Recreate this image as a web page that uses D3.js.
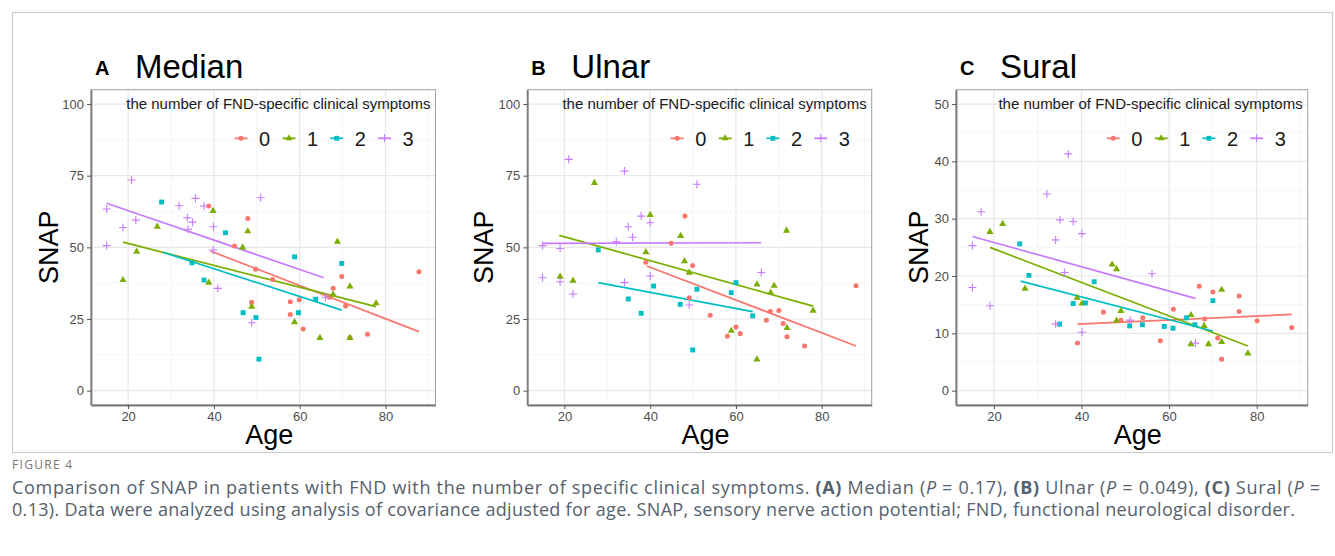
<!DOCTYPE html>
<html>
<head>
<meta charset="utf-8">
<script src="https://cdn.jsdelivr.net/npm/d3@7"></script>
<style>
  body { margin: 0; background: #fff; }
  svg { display: block; font-family: "Liberation Sans", Arial, sans-serif; }
</style>
</head>
<body>
<div id="chart"></div>
<script>
// groups = number of FND-specific clinical symptoms
var groups = ["0", "1", "2", "3"];
var groupColors = ["#F8766D", "#7CAE00", "#00BFC4", "#C77CFF"];

// [age, SNAP]
var median0 = [[38.8,64.4],[44.8,50.5],[47.9,60.1],[48.8,30.8],[49.7,42.4],[53.7,38.8],[57.8,31],[59.9,31.7],[57.8,26.6],[60.8,21.5],[66.9,32.6],[67.8,35.7],[69.8,39.8],[70.7,29.5],[71.7,18.5],[75.8,19.7],[87.8,41.5]];
var median1 = [[18.8,38.6],[22,48.5],[26.8,57.2],[38.8,37.7],[39.8,62.7],[46.7,50],[47.9,55.6],[48.8,29.3],[58.8,23.9],[64.7,18.4],[67.8,33.5],[68.8,52],[71.7,36.4],[71.7,18.4],[77.8,30.5]];
var median2 = [[27.8,65.8],[34.9,44.6],[37.7,38.6],[42.7,55.1],[46.8,27.2],[49.8,25.5],[50.5,11],[58.8,46.7],[59.7,27.2],[63.7,31.9],[69.8,44.4]];
var median3 = [[15,63.4],[15,50.6],[18.8,56.9],[20.8,73.5],[21.8,59.5],[31.9,64.5],[33.8,60.3],[34,56.3],[35,58.8],[35.7,67.1],[37.7,64.4],[39.8,49.1],[39.9,57.2],[40.9,35.7],[48.8,23.7],[50.9,67.3],[66,32.6]];

var ulnar0 = [[39,44.8],[44.9,51.4],[48.1,60.9],[49.1,32.4],[49.9,43.7],[54,26.3],[58,19],[60,22.2],[61,19.9],[67.1,24.6],[68,27.6],[70,28],[71,23.4],[71.9,18.8],[76,15.6],[88,36.6]];
var ulnar1 = [[19,39.8],[22,38.4],[27,72.5],[39,48.3],[40,61.3],[47.1,54],[48,45.2],[49.1,41.2],[58.9,20.9],[64.9,37.1],[64.9,10.9],[68.1,34.2],[68.9,36.6],[71.8,55.8],[71.9,21.9],[78,27.9]];
var ulnar2 = [[27.9,49.1],[34.9,32],[37.9,27],[40.8,36.5],[47,30.1],[49.9,14.2],[50.9,35.4],[58.9,34.2],[60,37.7],[63.9,26.1]];
var ulnar3 = [[14.9,50.6],[14.9,39.4],[19,49.6],[19,38],[21,80.7],[22,33.7],[32.1,52],[34,76.6],[34,37.7],[34.9,57.2],[35.9,53.5],[37.9,60.9],[40,58.6],[40,40],[49.1,29.9],[50.9,72],[65.9,41.2]];

var sural0 = [[39.1,8.3],[45,13.7],[49,12.3],[54,12.7],[58,8.7],[61,14.2],[66.9,18.2],[68.1,12.5],[70,17.2],[71.1,9.2],[72,5.5],[76,16.5],[76,13.8],[80.1,12.2],[88,11]];
var sural1 = [[19.1,27.7],[22,29.1],[27.1,17.8],[39,16.2],[40.1,15.2],[47,22],[48,21.2],[48,12.2],[49,13.9],[65,13.2],[65,8.1],[68,11.3],[69,8.1],[72,17.6],[72,8.5],[78,6.5]];
var sural2 = [[25.9,25.6],[28,20.1],[35,11.6],[38.1,15.2],[40.9,15.3],[42.9,19],[51,11.3],[53.9,11.5],[58.9,11.2],[60.9,10.9],[64,12.7],[65.9,11.5],[70,15.7]];
var sural3 = [[15.1,25.3],[15.1,18],[17.1,31.2],[19.1,14.8],[32.1,34.3],[34.1,26.3],[34.1,11.6],[35.1,29.8],[36.1,20.6],[37,41.3],[38.1,29.5],[40.1,27.4],[40.1,10.2],[51.1,12.3],[56.1,20.4],[66,8.3]];

// fitted lines per group: [age start, SNAP start, age end, SNAP end]
var medianFits = [[39.2,48.7,87.8,20.6],[18.8,51.8,77.8,29.3],[28.1,48.3,69.8,28.1],[15,65.4,65.6,39.4]];
var ulnarFits  = [[39.2,43.5,88,15.6],[18.8,54.2,78,29.5],[27.9,37.7,63.9,27.6],[14.9,51.4,65.9,51.6]];
var suralFits  = [[39.1,11.6,88,13.3],[19.1,25,78,7.8],[26.1,19.1,70,10.4],[15.1,26.9,66,16.1]];

var ageTicks = [20, 40, 60, 80];
var ageMinor = [30, 50, 70, 90];
var snapTicks100 = [0, 25, 50, 75, 100];
var snapTicks50 = [0, 10, 20, 30, 40, 50];

var panels = [
    { tag: "A", title: "Median", pts: [median0, median1, median2, median3], fits: medianFits,
      yMax: 100, yTicks: snapTicks100, left: 91, right: 435.5, ylabX: 48 },
    { tag: "B", title: "Ulnar", pts: [ulnar0, ulnar1, ulnar2, ulnar3], fits: ulnarFits,
      yMax: 100, yTicks: snapTicks100, left: 527.3, right: 871.7, ylabX: 483 },
    { tag: "C", title: "Sural", pts: [sural0, sural1, sural2, sural3], fits: suralFits,
      yMax: 50, yTicks: snapTicks50, left: 956, right: 1307.7, ylabX: 918 }
];

var W = 1335, H = 556;
var plotTop = 89.7, plotBottom = 405;

var svg = d3.select("#chart").append("svg")
    .attr("width", W).attr("height", H);

// figure frame
svg.append("rect")
    .attr("x", 12.5).attr("y", 12.5)
    .attr("width", 1320).attr("height", 440)
    .attr("fill", "none").attr("stroke", "#c8c8c8");

function shapeFor(i) {
    if (i === 0) return d3.symbol().type(d3.symbolCircle).size(20)();
    if (i === 1) return d3.symbol().type(d3.symbolTriangle).size(22)();
    if (i === 2) return d3.symbol().type(d3.symbolSquare).size(24)();
    return "M-4,0H4M0,-4V4";
}

panels.forEach(function (p) {
    var x = d3.scaleLinear().domain([11.35, 91.65]).range([p.left, p.right]);
    var y = d3.scaleLinear().domain([-0.05 * p.yMax, 1.05 * p.yMax]).range([plotBottom, plotTop]);
    var g = svg.append("g");

    // minor grid
    var yMinor = p.yTicks.slice(0, -1).map(function (t, i) { return (t + p.yTicks[i + 1]) / 2; });
    g.selectAll(".gmx").data(ageMinor).join("line")
        .attr("x1", d => x(d)).attr("x2", d => x(d))
        .attr("y1", plotTop).attr("y2", plotBottom)
        .attr("stroke", "#f2f2f2").attr("stroke-width", 0.7);
    g.selectAll(".gmy").data(yMinor).join("line")
        .attr("x1", p.left).attr("x2", p.right)
        .attr("y1", d => y(d)).attr("y2", d => y(d))
        .attr("stroke", "#f2f2f2").attr("stroke-width", 0.7);
    // major grid
    g.selectAll(".gx").data(ageTicks).join("line")
        .attr("x1", d => x(d)).attr("x2", d => x(d))
        .attr("y1", plotTop).attr("y2", plotBottom)
        .attr("stroke", "#e8e8e8").attr("stroke-width", 1.2);
    g.selectAll(".gy").data(p.yTicks).join("line")
        .attr("x1", p.left).attr("x2", p.right)
        .attr("y1", d => y(d)).attr("y2", d => y(d))
        .attr("stroke", "#e8e8e8").attr("stroke-width", 1.2);

    // panel border
    g.append("rect")
        .attr("x", p.left).attr("y", plotTop)
        .attr("width", p.right - p.left).attr("height", plotBottom - plotTop)
        .attr("fill", "none").attr("stroke", "#a0a0a0").attr("stroke-width", 1);

    // fitted lines
    var line = d3.line().x(d => x(d[0])).y(d => y(d[1]));
    p.fits.forEach(function (f, i) {
        g.append("path")
            .attr("d", line([[f[0], f[1]], [f[2], f[3]]]))
            .attr("fill", "none")
            .attr("stroke", groupColors[i])
            .attr("stroke-width", 1.7);
    });

    // points
    p.pts.forEach(function (arr, i) {
        g.selectAll(".pt" + i).data(arr).join("path")
            .attr("transform", d => "translate(" + x(d[0]) + "," + y(d[1]) + ")")
            .attr("d", shapeFor(i))
            .attr("fill", i === 3 ? "none" : groupColors[i])
            .attr("stroke", i === 3 ? groupColors[i] : "none")
            .attr("stroke-width", 1.1);
    });

    // axes
    var ax = g.append("g")
        .attr("transform", "translate(0," + plotBottom + ")")
        .call(d3.axisBottom(x).tickValues(ageTicks).tickSize(4).tickSizeOuter(0).tickPadding(3));
    var ay = g.append("g")
        .attr("transform", "translate(" + p.left + ",0)")
        .call(d3.axisLeft(y).tickValues(p.yTicks).tickSize(4).tickSizeOuter(0).tickPadding(3));
    [ax, ay].forEach(function (a) {
        a.select(".domain").attr("stroke", "#7a7a7a").attr("stroke-width", 1.8);
        a.selectAll(".tick line").attr("stroke", "#555");
        a.selectAll(".tick text")
            .attr("fill", "#4d4d4d")
            .style("font-size", "13px")
            .style("font-family", "'Liberation Sans', Arial, sans-serif");
    });

    // axis titles
    svg.append("text")
        .attr("x", (p.left + p.right) / 2 + 6).attr("y", 444)
        .attr("text-anchor", "middle")
        .style("font-size", "27px")
        .text("Age");
    svg.append("text")
        .attr("transform", "translate(" + (p.ylabX + 10) + "," + ((plotTop + plotBottom) / 2) + ") rotate(-90)")
        .attr("text-anchor", "middle")
        .style("font-size", "27px")
        .text("SNAP");

    // panel title
    svg.append("text")
        .attr("x", p.left + 4).attr("y", 75)
        .style("font-size", "20px").style("font-weight", "bold")
        .text(p.tag);
    svg.append("text")
        .attr("x", p.left + 44).attr("y", 78)
        .style("font-size", "33px")
        .text(p.title);

    // legend (inside, top right)
    svg.append("text")
        .attr("x", p.right - 5).attr("y", 109)
        .attr("text-anchor", "end")
        .style("font-size", "15px")
        .attr("fill", "#1a1a1a")
        .text("the number of FND-specific clinical symptoms");
    var offs = [194.5, 146.5, 98.8, 51];
    groups.forEach(function (lab, i) {
        var cx = p.right - offs[i];
        svg.append("line")
            .attr("x1", cx - 6.5).attr("x2", cx + 6.5)
            .attr("y1", 138.3).attr("y2", 138.3)
            .attr("stroke", groupColors[i]).attr("stroke-width", 1.7);
        svg.append("path")
            .attr("transform", "translate(" + cx + ",138.3)")
            .attr("d", shapeFor(i))
            .attr("fill", i === 3 ? "none" : groupColors[i])
            .attr("stroke", i === 3 ? groupColors[i] : "none")
            .attr("stroke-width", 1.1);
        svg.append("text")
            .attr("x", cx + 18).attr("y", 145.5)
            .style("font-size", "20px")
            .attr("fill", "#1a1a1a")
            .text(lab);
    });
});

// caption
svg.append("text")
    .attr("x", 12).attr("y", 469)
    .style("font-size", "12px")
    .style("letter-spacing", "1.3px")
    .style("font-family", "'Open Sans', sans-serif")
    .attr("fill", "#777")
    .text("FIGURE 4");

var capStyle = function (t) {
    return t.style("font-size", "18px")
        .style("font-family", "'Open Sans', sans-serif")
        .attr("fill", "#55616d");
};
var cap1 = capStyle(svg.append("text").attr("x", 12).attr("y", 494)
    .attr("textLength", 1308).attr("lengthAdjust", "spacing"));
cap1.append("tspan").text("Comparison of SNAP in patients with FND with the number of specific clinical symptoms. ");
cap1.append("tspan").style("font-weight", "bold").text("(A)");
cap1.append("tspan").text(" Median (");
cap1.append("tspan").style("font-style", "italic").text("P");
cap1.append("tspan").text(" = 0.17), ");
cap1.append("tspan").style("font-weight", "bold").text("(B)");
cap1.append("tspan").text(" Ulnar (");
cap1.append("tspan").style("font-style", "italic").text("P");
cap1.append("tspan").text(" = 0.049), ");
cap1.append("tspan").style("font-weight", "bold").text("(C)");
cap1.append("tspan").text(" Sural (");
cap1.append("tspan").style("font-style", "italic").text("P");
cap1.append("tspan").text(" =");

var cap2 = capStyle(svg.append("text").attr("x", 12).attr("y", 516)
    .attr("textLength", 1283).attr("lengthAdjust", "spacing"));
cap2.text("0.13). Data were analyzed using analysis of covariance adjusted for age. SNAP, sensory nerve action potential; FND, functional neurological disorder.");
</script>
</body>
</html>
